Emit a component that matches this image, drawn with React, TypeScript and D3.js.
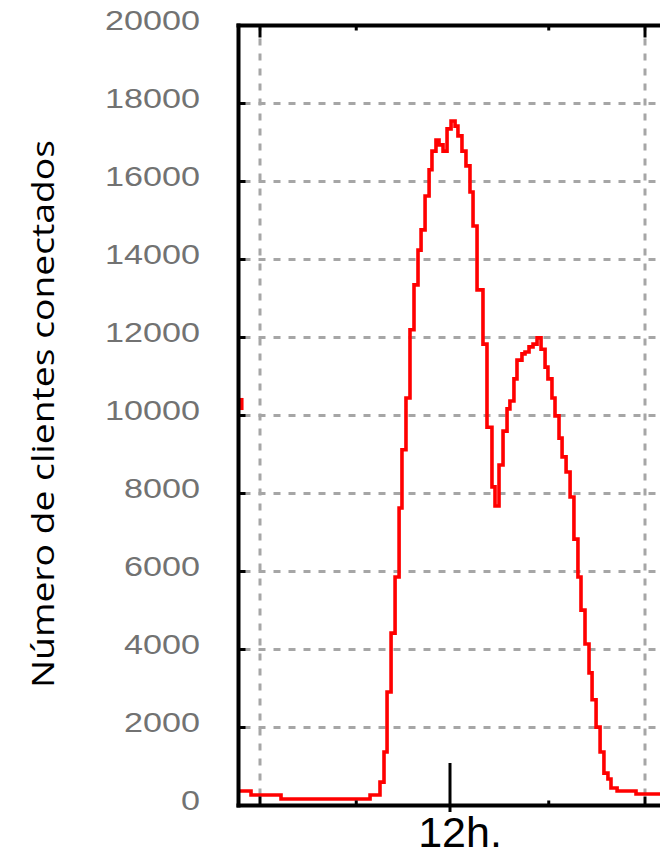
import React from "react";
import * as d3 from "d3";

const hours = [
  -1.37, -0.56, 1.31, 6.86, 7.48, 7.73, 7.92, 8.17, 8.42, 8.67, 8.85, 9.1, 9.35, 9.6, 9.85,
  10.04, 10.29, 10.54, 10.72, 10.97, 11.16, 11.41, 11.66, 11.91, 12.16, 12.34, 12.59, 12.84,
  13.09, 13.28, 13.53, 13.9, 14.15, 14.46, 14.65, 14.9, 15.15, 15.4, 15.58, 15.83, 16.02,
  16.33, 16.52, 16.77, 17.02, 17.27, 17.52, 17.77, 17.95, 18.2, 18.39, 18.64, 18.83, 19.08,
  19.33, 19.57, 19.82, 20.01, 20.26, 20.51, 20.7, 20.95, 21.2, 21.44, 21.69, 21.88, 22.26,
  23.44, 26.5,
];
const clients = [
  370, 270, 167, 270, 600, 1370, 2910, 4420, 5860, 7630, 9120, 10450, 12200, 13350, 14240,
  14760, 15630, 16300, 16780, 17060, 16940, 16780, 17350, 17550, 17420, 17170, 16780, 16400,
  15730, 14860, 13220, 11830, 9700, 8170, 7680, 8730, 9600, 10170, 10370, 10940, 11420,
  11580, 11630, 11760, 11830, 11990, 11700, 11240, 10940, 10450, 9990, 9420, 8940, 8550,
  7910, 6830, 5860, 5010, 4140, 3400, 2710, 2010, 1370, 830, 680, 450, 370, 295, 295,
];
const edgeHours = [-1.15, -1.15];
const edgeClients = [10450, 10140];

const yTicks = [0, 2000, 4000, 6000, 8000, 10000, 12000, 14000, 16000, 18000, 20000];
const xGridHours = [0, 24];
const xMinorHours = [6, 18];
const xLabelHour = 12;
const xLabel = "12h.";
const yTitle = "Número de clientes conectados";

export default function App() {
  const W = 660, H = 855;
  const left = 238.5, top = 25.5, bottom = 805.5, right = 700;
  const x = d3.scaleLinear().domain([0, 24]).range([260, 645]);
  const y = d3.scaleLinear().domain([0, 20000]).range([bottom, top]);
  const pts = hours.map((h, i) => [h, clients[i]] as [number, number]);
  const line = d3
    .line<[number, number]>()
    .x((d) => x(d[0]))
    .y((d) => y(d[1]))
    .curve(d3.curveStepAfter);
  const edgePts = edgeHours.map((h, i) => [h, edgeClients[i]] as [number, number]);
  const edgeLine = d3
    .line<[number, number]>()
    .x((d) => x(d[0]))
    .y((d) => y(d[1]));

  return (
    <svg width={W} height={H} style={{ position: "absolute", left: 0, top: 0, background: "#fff" }}>
      <defs>
        <clipPath id="plot">
          <rect x={left + 1.5} y={top + 2} width={right - left} height={bottom - top - 4} />
        </clipPath>
      </defs>
      {yTicks.slice(1, -1).map((t) => (
        <line
          key={"hg" + t}
          x1={left + 2}
          x2={W}
          y1={y(t)}
          y2={y(t)}
          stroke="#a6a6a6"
          strokeWidth={3}
          strokeDasharray="7 8"
          strokeDashoffset={12}
        />
      ))}
      {xGridHours.map((h) => (
        <line
          key={"vg" + h}
          x1={x(h)}
          x2={x(h)}
          y1={top + 2}
          y2={bottom - 2}
          stroke="#a6a6a6"
          strokeWidth={3}
          strokeDasharray="7 8"
          strokeDashoffset={4}
        />
      ))}
      <g clipPath="url(#plot)">
        <path d={line(pts) || ""} fill="none" stroke="#ff0000" strokeWidth={3.6} />
        <path d={edgeLine(edgePts) || ""} fill="none" stroke="#ff0000" strokeWidth={4} />
      </g>
      <line x1={left} x2={left} y1={top - 2} y2={bottom + 2} stroke="#000" strokeWidth={4} />
      <line x1={left - 2} x2={W} y1={top} y2={top} stroke="#000" strokeWidth={4} />
      <line x1={left - 2} x2={W} y1={bottom} y2={bottom} stroke="#000" strokeWidth={4} />
      {yTicks.slice(1, -1).map((t) => (
        <line key={"yt" + t} x1={left} x2={left + 7} y1={y(t)} y2={y(t)} stroke="#000" strokeWidth={3} />
      ))}
      {xGridHours.map((h) => (
        <g key={"xt" + h}>
          <line x1={x(h)} x2={x(h)} y1={bottom} y2={bottom - 9} stroke="#000" strokeWidth={3} />
          <line x1={x(h)} x2={x(h)} y1={top} y2={top + 12} stroke="#000" strokeWidth={3} />
        </g>
      ))}
      {xMinorHours.map((h) => (
        <g key={"xm" + h}>
          <line x1={x(h)} x2={x(h)} y1={bottom} y2={bottom - 5} stroke="#000" strokeWidth={3} />
          <line x1={x(h)} x2={x(h)} y1={top} y2={top + 5} stroke="#000" strokeWidth={3} />
        </g>
      ))}
      <line
        x1={x(xLabelHour) - 2.5}
        x2={x(xLabelHour) - 2.5}
        y1={763}
        y2={812}
        stroke="#000"
        strokeWidth={3}
      />
      {yTicks.map((t) => {
        const s = String(t);
        return (
          <text
            key={"yl" + t}
            x={200}
            y={y(t) + 4.5}
            textAnchor="end"
            fontFamily="Liberation Sans, Arial, sans-serif"
            fontSize={27}
            fill="#727272"
            textLength={19 * s.length}
            lengthAdjust="spacingAndGlyphs"
          >
            {s}
          </text>
        );
      })}
      <text
        x={x(xLabelHour) + 7.5}
        y={847}
        textAnchor="middle"
        fontFamily="Liberation Sans, Arial, sans-serif"
        fontSize={43}
        fill="#000"
      >
        {xLabel}
      </text>
      <text
        transform="translate(54,414) rotate(-90)"
        textAnchor="middle"
        fontFamily="Open Sans, Noto Sans, sans-serif"
        fontSize={31}
        fill="#000"
        textLength={548}
        lengthAdjust="spacingAndGlyphs"
      >
        {yTitle}
      </text>
    </svg>
  );
}
